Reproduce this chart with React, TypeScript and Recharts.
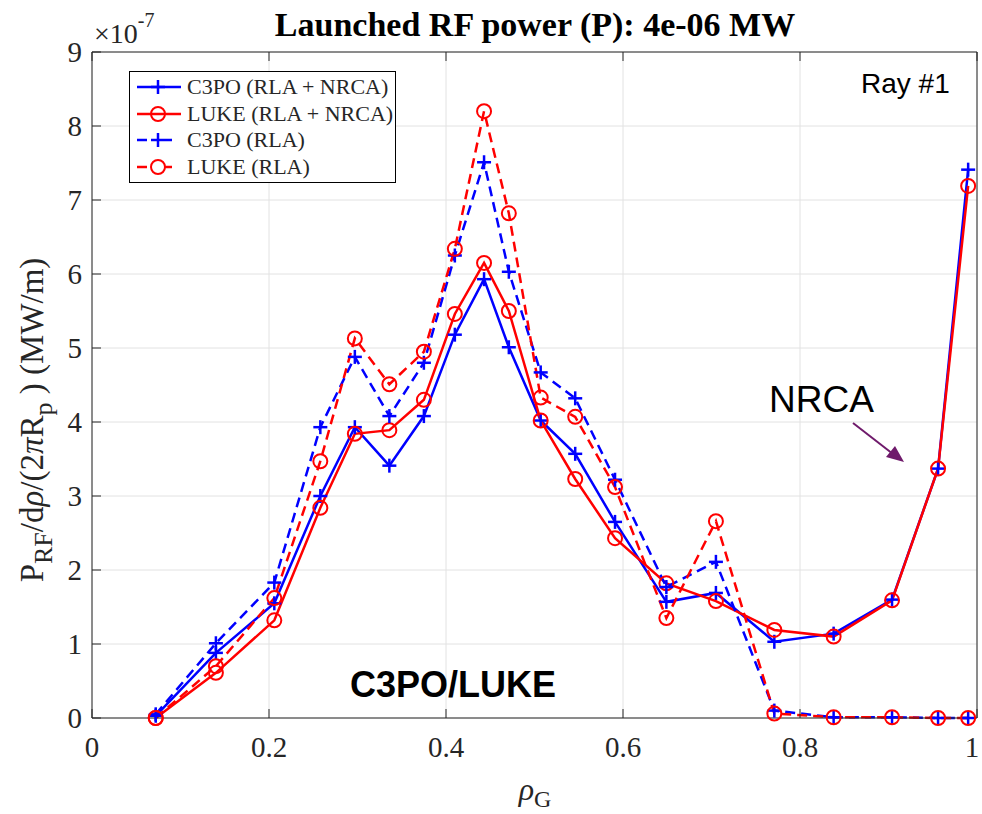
import React from 'react';
import { LineChart, Line, XAxis, YAxis, CartesianGrid, Legend } from 'recharts';

const rho = [0.072, 0.140, 0.206, 0.258, 0.297, 0.336, 0.375, 0.410, 0.443, 0.471, 0.507, 0.546, 0.591, 0.649, 0.705, 0.771, 0.838, 0.904, 0.956, 0.990];
const c3poFull = [0.03, 0.88, 1.55, 3.0, 3.93, 3.41, 4.08, 5.18, 5.93, 5.01, 4.02, 3.57, 2.65, 1.57, 1.69, 1.03, 1.14, 1.60, 3.37, 7.41];
const lukeFull = [0.0, 0.61, 1.32, 2.84, 3.84, 3.89, 4.30, 5.46, 6.15, 5.50, 4.02, 3.23, 2.43, 1.82, 1.58, 1.19, 1.10, 1.59, 3.37, 7.19];
const c3poRLA = [0.05, 1.01, 1.83, 3.93, 4.88, 4.08, 4.80, 6.25, 7.51, 6.03, 4.67, 4.32, 3.22, 1.77, 2.11, 0.10, 0.01, 0.01, 0.0, 0.0];
const lukeRLA = [0.0, 0.70, 1.62, 3.47, 5.13, 4.51, 4.95, 6.34, 8.20, 6.82, 4.33, 4.07, 3.12, 1.35, 2.66, 0.06, 0.01, 0.01, 0.0, 0.0];

const xTicks = [0, 0.2, 0.4, 0.6, 0.8, 1];
const xTickLabels = ['0', '0.2', '0.4', '0.6', '0.8', '1'];
const yTicks = [0, 1, 2, 3, 4, 5, 6, 7, 8, 9];
const seriesNames = ['C3PO (RLA + NRCA)', 'LUKE (RLA + NRCA)', 'C3PO (RLA)', 'LUKE (RLA)'];

const data = rho.map((r, i) => ({
  rho: r,
  c3poFull: c3poFull[i],
  lukeFull: lukeFull[i],
  c3poRLA: c3poRLA[i],
  lukeRLA: lukeRLA[i],
}));

const W = 982;
const H = 814;
const SERIF = '"Liberation Serif", "DejaVu Serif", serif';
const SANS = '"Liberation Sans", Arial, sans-serif';
const AX = '#262626';
const BLUE = '#0000ff';
const RED = '#ff0000';
const DASH = '10 6';

function PlusDot(props: any) {
  const { cx, cy, stroke } = props;
  if (cx == null || cy == null) return null;
  return (
    <g>
      <line x1={cx - 7} y1={cy} x2={cx + 7} y2={cy} stroke={stroke} strokeWidth={2.5} />
      <line x1={cx} y1={cy - 7} x2={cx} y2={cy + 7} stroke={stroke} strokeWidth={2.5} />
    </g>
  );
}

function CircleDot(props: any) {
  const { cx, cy, stroke } = props;
  if (cx == null || cy == null) return null;
  return <circle cx={cx} cy={cy} r={7} fill="none" stroke={stroke} strokeWidth={2} />;
}

const fmtX = (v: number) => {
  const i = xTicks.findIndex((t) => Math.abs(t - v) < 1e-9);
  return i >= 0 ? xTickLabels[i] : String(v);
};

function BottomTick(props: any) {
  const { x, y, payload } = props;
  const tx = Math.min(x, W - 10);
  return (
    <g>
      <line x1={x} y1={y} x2={x} y2={y - 9} stroke={AX} strokeWidth={1} />
      <text x={tx} y={y + 39} textAnchor="middle" fontFamily={SERIF} fontSize={29} fill={AX}>
        {fmtX(payload.value)}
      </text>
    </g>
  );
}

function TopTick(props: any) {
  const { x, y } = props;
  return <line x1={x} y1={y} x2={x} y2={y + 9} stroke={AX} strokeWidth={1} />;
}

function LeftTick(props: any) {
  const { x, y, payload } = props;
  return (
    <g>
      <line x1={x} y1={y} x2={x + 9} y2={y} stroke={AX} strokeWidth={1} />
      <text x={x - 10} y={y + 10} textAnchor="end" fontFamily={SERIF} fontSize={29} fill={AX}>
        {String(payload.value)}
      </text>
    </g>
  );
}

function RightTick(props: any) {
  const { x, y } = props;
  return <line x1={x} y1={y} x2={x - 9} y2={y} stroke={AX} strokeWidth={1} />;
}

const legendItems = [
  { name: seriesNames[0], color: BLUE, dashed: false, marker: 'plus' },
  { name: seriesNames[1], color: RED, dashed: false, marker: 'circle' },
  { name: seriesNames[2], color: BLUE, dashed: true, marker: 'plus' },
  { name: seriesNames[3], color: RED, dashed: true, marker: 'circle' },
];

function LegendBox() {
  return (
    <div
      style={{
        border: '1px solid #000',
        background: '#fff',
        width: 267,
        height: 112,
        boxSizing: 'border-box',
        padding: '2px 0 0 6px',
        fontFamily: SERIF,
        fontSize: 22,
        color: AX,
        lineHeight: 1,
      }}
    >
      {legendItems.map((it, i) => (
        <div key={i} style={{ display: 'flex', alignItems: 'center', height: 26.5 }}>
          <svg width={51} height={22} style={{ flex: 'none' }}>
            {it.dashed ? (
              <g>
                <line x1={1} y1={11} x2={11} y2={11} stroke={it.color} strokeWidth={2.5} />
                <line x1={29} y1={11} x2={36} y2={11} stroke={it.color} strokeWidth={2.5} />
              </g>
            ) : (
              <line x1={1} y1={11} x2={45} y2={11} stroke={it.color} strokeWidth={2.5} />
            )}
            {it.marker === 'plus' ? (
              <PlusDot cx={22} cy={11} stroke={it.color} />
            ) : (
              <CircleDot cx={22} cy={11} stroke={it.color} />
            )}
          </svg>
          <span style={{ whiteSpace: 'nowrap' }}>{it.name}</span>
        </div>
      ))}
    </div>
  );
}

export default function App() {
  return (
    <div style={{ position: 'absolute', left: 0, top: 0, width: W, height: H, background: '#fff' }}>
      <LineChart width={W} height={H} data={data} margin={{ top: 51, right: 4, bottom: 36, left: 32 }}>
        <CartesianGrid stroke="#e2e2e2" strokeWidth={1} />
        <XAxis
          dataKey="rho"
          type="number"
          domain={[0, 1]}
          ticks={xTicks}
          interval={0}
          height={60}
          tickSize={0}
          tickMargin={0}
          tickLine={false}
          tick={<BottomTick />}
          axisLine={{ stroke: AX, strokeWidth: 1 }}
        />
        <XAxis
          xAxisId="top"
          orientation="top"
          dataKey="rho"
          type="number"
          domain={[0, 1]}
          ticks={xTicks}
          interval={0}
          height={1}
          tickSize={0}
          tickMargin={0}
          tickLine={false}
          tick={<TopTick />}
          axisLine={{ stroke: AX, strokeWidth: 1 }}
        />
        <YAxis
          type="number"
          domain={[0, 9]}
          ticks={yTicks}
          interval={0}
          width={60}
          tickSize={0}
          tickMargin={0}
          tickLine={false}
          tick={<LeftTick />}
          axisLine={{ stroke: AX, strokeWidth: 1 }}
        />
        <YAxis
          yAxisId="right"
          orientation="right"
          type="number"
          domain={[0, 9]}
          ticks={yTicks}
          interval={0}
          width={1}
          tickSize={0}
          tickMargin={0}
          tickLine={false}
          tick={<RightTick />}
          axisLine={{ stroke: AX, strokeWidth: 1 }}
        />
        <Legend
          layout="vertical"
          align="center"
          verticalAlign="middle"
          content={() => <LegendBox />}
          wrapperStyle={{ left: 129, top: 71, width: 267, height: 112 }}
        />
        <Line
          type="linear"
          dataKey="c3poFull"
          name={seriesNames[0]}
          stroke={BLUE}
          strokeWidth={2.5}
          dot={(p: any) => <PlusDot key={`a${p.index}`} {...p} />}
          activeDot={false}
          isAnimationActive={false}
        />
        <Line
          type="linear"
          dataKey="lukeFull"
          name={seriesNames[1]}
          stroke={RED}
          strokeWidth={2.5}
          dot={(p: any) => <CircleDot key={`b${p.index}`} {...p} />}
          activeDot={false}
          isAnimationActive={false}
        />
        <Line
          type="linear"
          dataKey="c3poRLA"
          name={seriesNames[2]}
          stroke={BLUE}
          strokeWidth={2.5}
          strokeDasharray={DASH}
          dot={(p: any) => <PlusDot key={`c${p.index}`} {...p} />}
          activeDot={false}
          isAnimationActive={false}
        />
        <Line
          type="linear"
          dataKey="lukeRLA"
          name={seriesNames[3]}
          stroke={RED}
          strokeWidth={2.5}
          strokeDasharray={DASH}
          dot={(p: any) => <CircleDot key={`d${p.index}`} {...p} />}
          activeDot={false}
          isAnimationActive={false}
        />
      </LineChart>
      <svg
        width={W}
        height={H}
        style={{ position: 'absolute', left: 0, top: 0, pointerEvents: 'none' }}
      >
        <text x={535} y={36} textAnchor="middle" fontFamily={SERIF} fontWeight="bold" fontSize={34} fill="#000">
          Launched RF power (P): 4e-06 MW
        </text>
        <text x={94} y={43} fontFamily={SERIF} fontSize={28} fill={AX}>
          ×10
          <tspan dy={-16} fontSize={20}>-7</tspan>
        </text>
        <text
          transform="translate(43,420) rotate(-90)"
          textAnchor="middle"
          fontFamily={SERIF}
          fontSize={33}
          fill={AX}
        >
          P<tspan dy={9} fontSize={26}>RF</tspan>
          <tspan dy={-9}>/d</tspan>
          <tspan fontStyle="italic">ρ</tspan>
          <tspan>/(2</tspan>
          <tspan fontStyle="italic">π</tspan>
          <tspan>R</tspan>
          <tspan dy={9} fontSize={26}>p</tspan>
          <tspan dy={-9}>{'\u00a0) (MW/m)'}</tspan>
        </text>
        <text x={535} y={800} textAnchor="middle" fontFamily={SERIF} fontSize={32} fill={AX}>
          <tspan fontStyle="italic">ρ</tspan>
          <tspan dy={7} fontSize={24}>G</tspan>
        </text>
        <text x={861} y={93} fontFamily={SANS} fontSize={28} fill="#000">
          Ray #1
        </text>
        <text x={769} y={412} fontFamily={SANS} fontSize={37} fill="#000">
          NRCA
        </text>
        <text x={350} y={697} fontFamily={SANS} fontWeight="bold" fontSize={36} fill="#000">
          C3PO/LUKE
        </text>
        <line x1={853} y1={423} x2={893} y2={454} stroke="#6f1a6b" strokeWidth={2} />
        <polygon points="904,462 886,457 895,446" fill="#6f1a6b" />
      </svg>
    </div>
  );
}
